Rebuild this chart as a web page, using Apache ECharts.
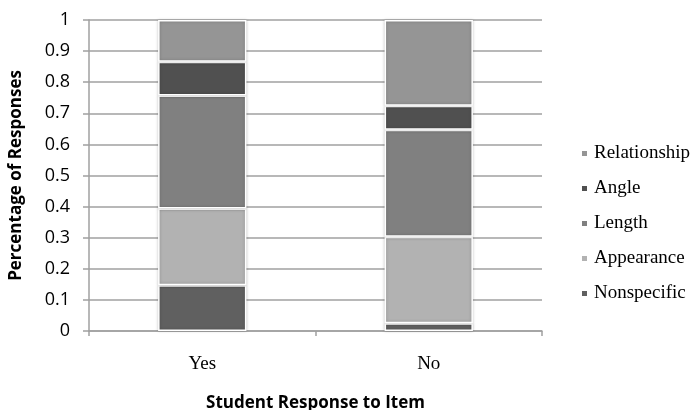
<!DOCTYPE html>
<html>
<head>
<meta charset="utf-8">
<script src="https://cdn.jsdelivr.net/npm/echarts@6/dist/echarts.min.js"></script>
<style>html,body{margin:0;padding:0;background:#fff;}#c{width:691px;height:410px;}</style>
</head>
<body>
<div id="c"></div>
<script>
const categories = ['Yes', 'No'];
const nonspecific = [0.147, 0.025];
const appearance = [0.247, 0.278];
const lengthV = [0.363, 0.344];
const angle = [0.109, 0.077];
const relationship = [0.134, 0.276];
const yTicks = [0, 0.1, 0.2, 0.3, 0.4, 0.5, 0.6, 0.7, 0.8, 0.9, 1];

const seriesDefs = [
  {name: 'Nonspecific', data: nonspecific, color: '#606060'},
  {name: 'Appearance', data: appearance, color: '#b2b2b2'},
  {name: 'Length', data: lengthV, color: '#808080'},
  {name: 'Angle', data: angle, color: '#505050'},
  {name: 'Relationship', data: relationship, color: '#959595'}
];

const chart = echarts.init(document.getElementById('c'), null, {renderer: 'canvas'});
chart.setOption({
  animation: false,
  backgroundColor: '#fff',
  grid: {left: 89, right: 149, top: 20, bottom: 79, containLabel: false, outerBoundsMode: 'none'},
  legend: {
    orient: 'vertical',
    left: 575,
    top: 139,
    itemWidth: 7,
    itemHeight: 7,
    itemGap: 16,
    icon: 'rect',
    data: ['Relationship', 'Angle', 'Length', 'Appearance', 'Nonspecific'],
    textStyle: {fontFamily: 'Liberation Serif', fontSize: 19, color: '#000', lineHeight: 19, padding: [0, 0, 0, 1]}
  },
  xAxis: {
    type: 'category',
    data: categories,
    name: 'Student Response to Item',
    nameLocation: 'middle',
    nameGap: 64,
    nameTextStyle: {fontFamily: 'Open Sans', fontWeight: 'bold', fontSize: 17, color: '#000'},
    axisLine: {lineStyle: {color: '#a0a0a0', width: 1.5}},
    axisTick: {show: true, length: 5, lineStyle: {color: '#a0a0a0', width: 1.5}},
    axisLabel: {fontFamily: 'Liberation Serif', fontSize: 19, color: '#000', margin: 24}
  },
  yAxis: {
    type: 'value',
    min: 0,
    max: 1,
    interval: 0.1,
    name: 'Percentage of Responses',
    nameLocation: 'middle',
    nameGap: 64,
    nameTextStyle: {fontFamily: 'Open Sans', fontWeight: 'bold', fontSize: 17, color: '#000'},
    axisLine: {show: true, lineStyle: {color: '#a0a0a0', width: 1.5}},
    axisTick: {show: true, length: 6, lineStyle: {color: '#a0a0a0', width: 1.5}},
    axisLabel: {
      fontFamily: 'Open Sans', fontSize: 18, color: '#000', margin: 19,
      formatter: v => { const t = yTicks.find(x => Math.abs(x - v) < 1e-9); return t === undefined ? '' : String(t); }
    },
    splitLine: {show: true, lineStyle: {color: '#a0a0a0', width: 1.5}}
  },
  series: seriesDefs.map(s => ({
    name: s.name,
    type: 'bar',
    stack: 'total',
    barWidth: '39%',
    data: s.data,
    itemStyle: {color: s.color, borderColor: '#fff', borderWidth: 1.5, shadowBlur: 3, shadowColor: 'rgba(0,0,0,0.25)'}
  }))
});
</script>
</body>
</html>
